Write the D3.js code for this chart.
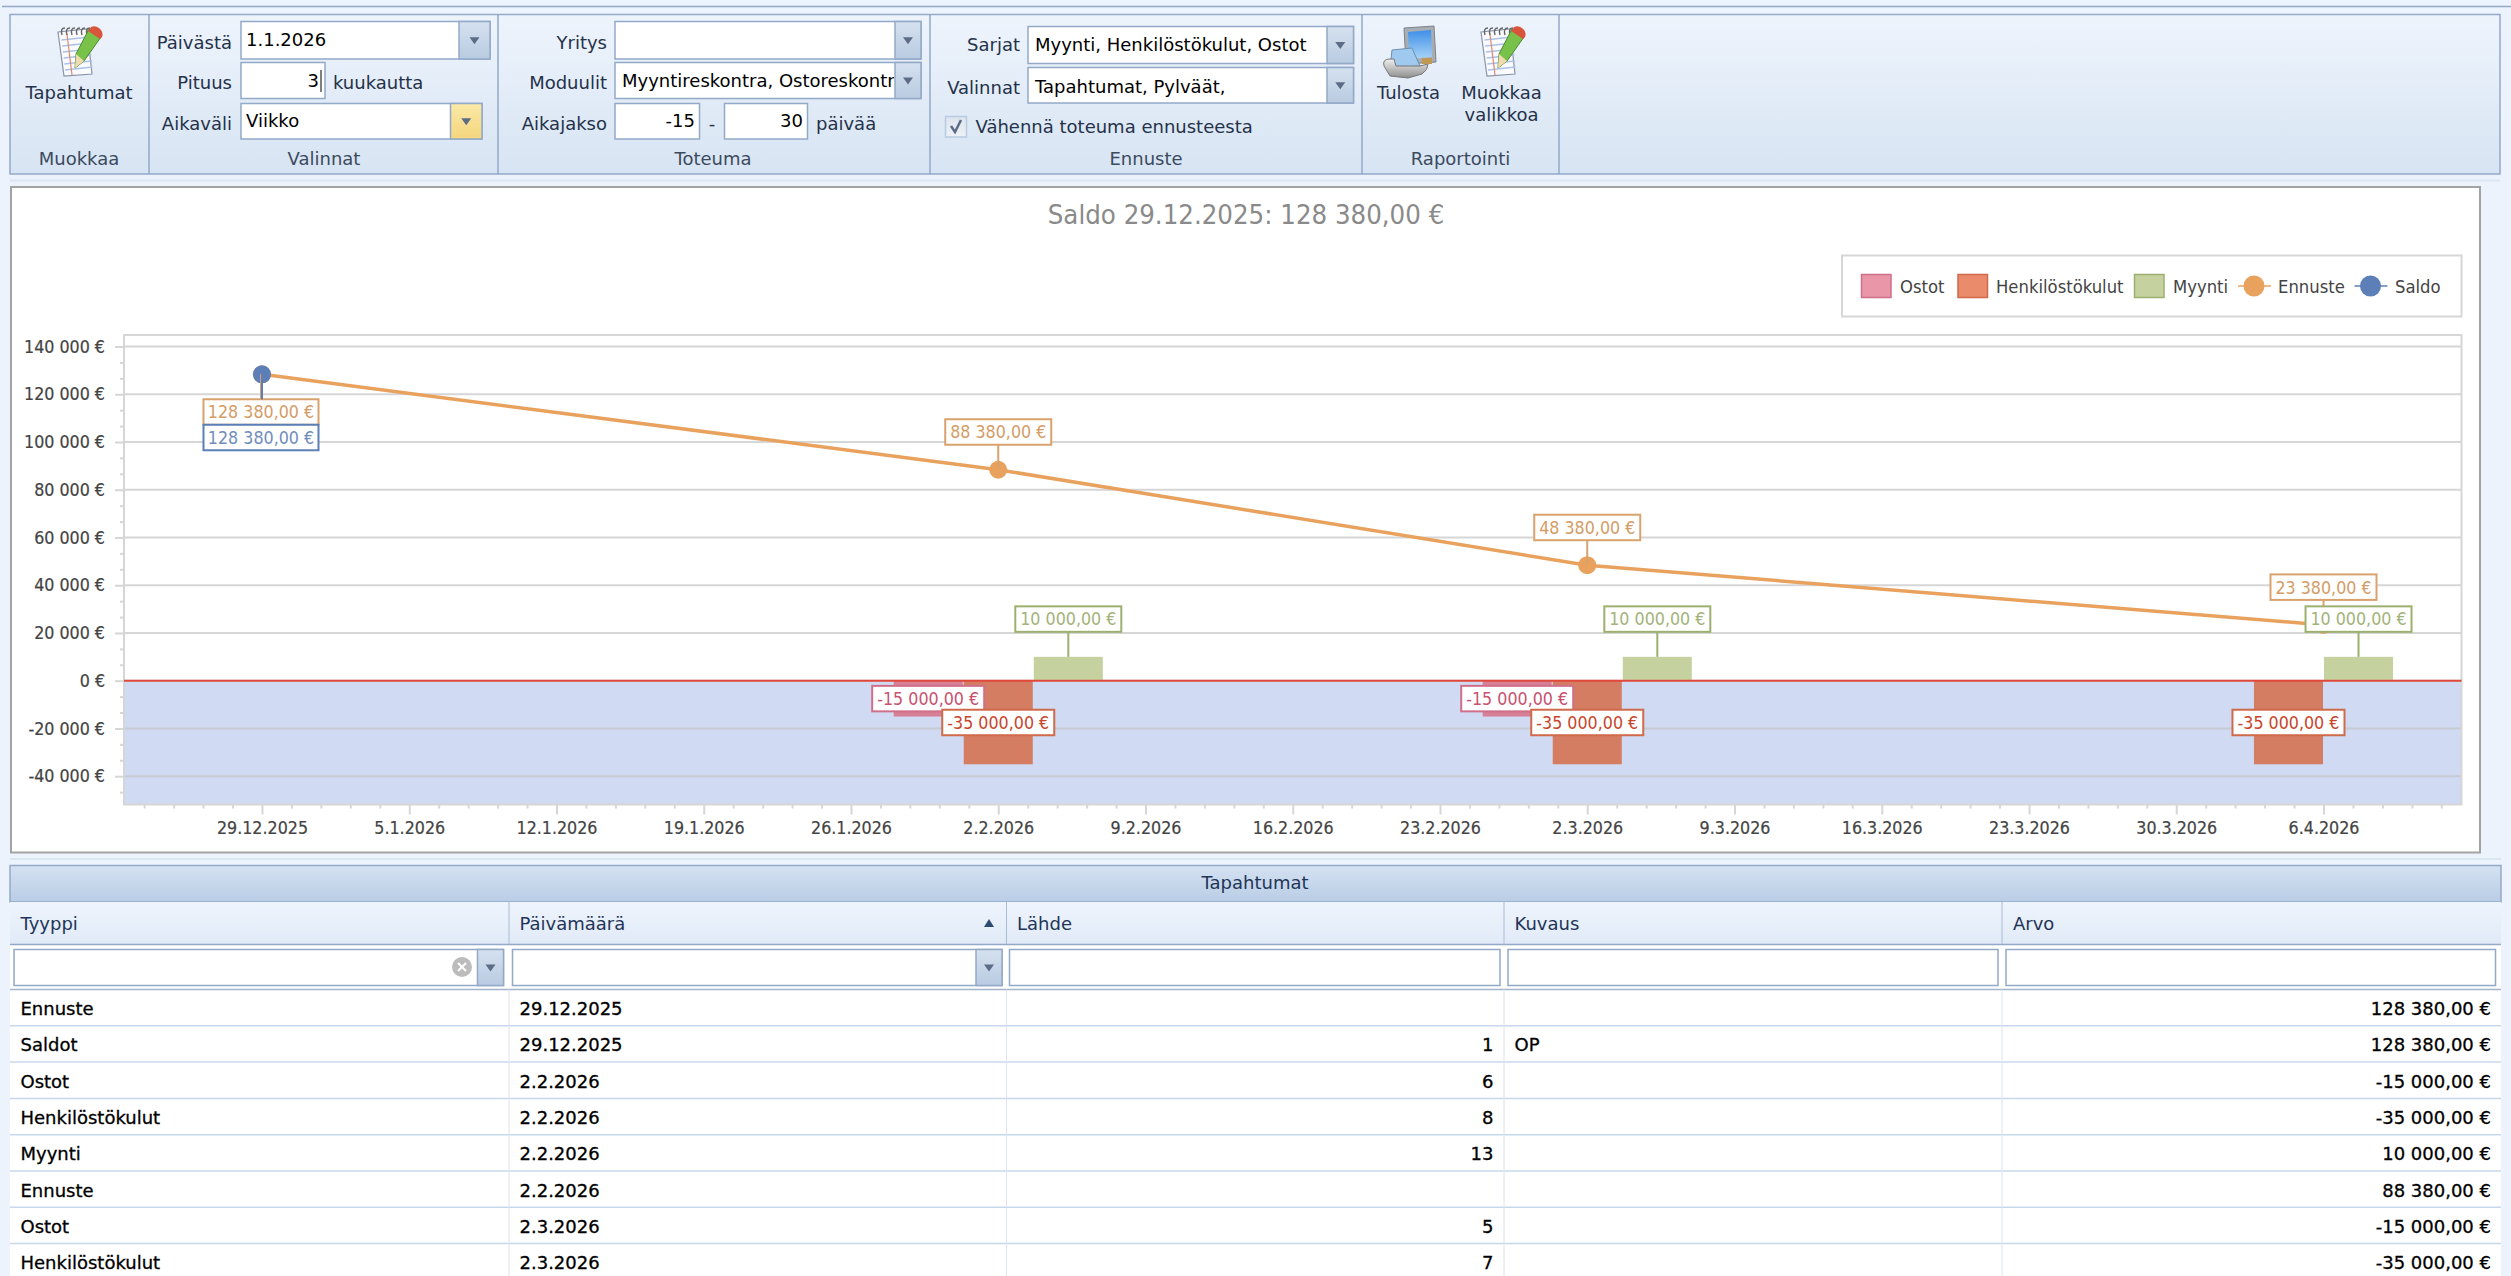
<!DOCTYPE html>
<html lang="fi">
<head>
<meta charset="utf-8">
<title>Saldo</title>
<script src="https://cdn.jsdelivr.net/npm/d3@7"></script>
<style>
html, body { margin: 0; padding: 0; background: #ecf3fc; overflow: hidden; }
svg { display: block; }
svg text { font-family: "DejaVu Sans", sans-serif; font-size: 18px; }
svg .ch text { font-family: "DejaVu Sans Condensed", "DejaVu Sans", sans-serif; font-size: 17.7px; }
svg .lg text { font-family: "DejaVu Sans Condensed", "DejaVu Sans", sans-serif; font-size: 18.3px; }
svg .cells text { stroke: #000; stroke-width: 0.3px; }
svg .tick text { stroke: #444; stroke-width: 0.2px; }
</style>
</head>
<body>
<script>
// chart values
var barDates = ["2.2.2026", "2.3.2026", "6.4.2026"];
var ostot = [-15000, -15000, null];
var henkilostokulut = [-35000, -35000, -35000];
var myynti = [10000, 10000, 10000];
var ennusteDates = ["29.12.2025", "2.2.2026", "2.3.2026", "6.4.2026"];
var ennuste = [128380, 88380, 48380, 23380];
var saldoDates = ["29.12.2025"];
var saldo = [128380];
var yTicks = [140000, 120000, 100000, 80000, 60000, 40000, 20000, 0, -20000, -40000];
var xTickLabels = ["29.12.2025", "5.1.2026", "12.1.2026", "19.1.2026", "26.1.2026", "2.2.2026", "9.2.2026",
  "16.2.2026", "23.2.2026", "2.3.2026", "9.3.2026", "16.3.2026", "23.3.2026", "30.3.2026", "6.4.2026"];

// table values
var tableColumns = ["Tyyppi", "Päivämäärä", "Lähde", "Kuvaus", "Arvo"];
var rowTyyppi = ["Ennuste", "Saldot", "Ostot", "Henkilöstökulut", "Myynti", "Ennuste", "Ostot", "Henkilöstökulut"];
var rowPaiva = ["29.12.2025", "29.12.2025", "2.2.2026", "2.2.2026", "2.2.2026", "2.2.2026", "2.3.2026", "2.3.2026"];
var rowLahde = ["", "1", "6", "8", "13", "", "5", "7"];
var rowKuvaus = ["", "OP", "", "", "", "", "", ""];
var rowArvo = [128380, 128380, -15000, -35000, 10000, 88380, -15000, -35000];

var colors = {
  Ostot: {bar: "#d87f98", swatch: "#e996a9", line: "#cf6f8a", text: "#c9506f"},
  Henkilostokulut: {bar: "#d57d63", swatch: "#ea8b6b", line: "#cf6a4a", text: "#c8452c"},
  Myynti: {bar: "#c5d29f", swatch: "#c5d29f", line: "#9db070", text: "#a3b27a"},
  Ennuste: {bar: "#e8a25e", swatch: "#e8a25e", line: "#d9a26c", text: "#d49c66"},
  Saldo: {bar: "#5c7fb8", swatch: "#5c7fb8", line: "#5c7fb8", text: "#6f8dbd"}
};

var W = 2511, H = 1276;
var parseDate = d3.utcParse("%d.%m.%Y");
var fi = d3.formatLocale({decimal: ",", thousands: " ", grouping: [3], currency: ["", " €"], minus: "-"});
var money = fi.format("$,.2f");
var moneyShort = fi.format("$,.0f");

var svg = d3.select("body").append("svg").attr("width", W).attr("height", H);
var defs = svg.append("defs");

function gradient(id, stops) {
  var g = defs.append("linearGradient").attr("id", id).attr("x1", 0).attr("y1", 0).attr("x2", 0).attr("y2", 1);
  stops.forEach(function(s, i) {
    g.append("stop").attr("offset", i / (stops.length - 1)).attr("stop-color", s);
  });
}
gradient("ribbonBg", ["#eef4fc", "#d7e4f3"]);
gradient("btnBg", ["#d5e1ef", "#b9cbe1"]);
gradient("btnHot", ["#fbe9a8", "#f4d67c"]);
gradient("titleBg", ["#d4e1f1", "#b9cde6"]);
gradient("headBg", ["#eef4fc", "#e0eaf7"]);
gradient("checkBg", ["#dce4ee", "#eef2f7"]);
gradient("screenBg", ["#3f8fe8", "#a9d4f7"]);
gradient("printerBg", ["#f0f0f0", "#8d8d8d"]);

function txt(g, x, y, s, anchor, color, size) {
  return g.append("text").attr("x", x).attr("y", y).attr("dy", ".36em")
    .attr("text-anchor", anchor || "start").attr("fill", color || "#000")
    .style("font-size", size ? size + "px" : null).text(s);
}
function rect(g, x0, y0, x1, y1, fill, stroke, sw) {
  return g.append("rect").attr("x", x0).attr("y", y0).attr("width", x1 - x0).attr("height", y1 - y0)
    .attr("fill", fill || "none").attr("stroke", stroke || "none").attr("stroke-width", sw || 1);
}
function hline(g, x0, x1, y, color, sw) {
  return g.append("line").attr("x1", x0).attr("x2", x1).attr("y1", y).attr("y2", y)
    .attr("stroke", color).attr("stroke-width", sw || 1);
}
function vline(g, x, y0, y1, color, sw) {
  return g.append("line").attr("x1", x).attr("x2", x).attr("y1", y0).attr("y2", y1)
    .attr("stroke", color).attr("stroke-width", sw || 1);
}
function arrow(g, cx, cy, color) {
  g.append("path").attr("d", "M" + (cx - 5) + "," + (cy - 3) + "h10l-5,7z").attr("fill", color || "#5c6c86");
}
// text box, with an optional drop button at the right
function field(g, x0, y0, x1, y1, text, btnX, hot) {
  rect(g, x0, y0, x1, y1, "#fff", "#93a9c8", 1.5);
  if (btnX) {
    rect(g, btnX, y0, x1, y1, hot ? "url(#btnHot)" : "url(#btnBg)", "#93a9c8", 1.5);
    arrow(g, (btnX + x1) / 2, (y0 + y1) / 2);
  }
  if (text) txt(g, x0 + 5, (y0 + y1) / 2 - 1, text);
}

// ---------- ribbon ----------
var ribbon = svg.append("g");
hline(ribbon, 2, 2511, 6.5, "#93a9c8", 1.5);
rect(ribbon, 10, 14.5, 2500, 174, "url(#ribbonBg)", "#93a9c8", 1.5);
[149, 498, 930, 1362, 1559].forEach(function(x) { vline(ribbon, x, 15, 174, "#93a9c8", 1.5); });
hline(ribbon, 10, 2500, 180.5, "#d9e5f3", 2);

function notebookIcon(g, x, y) {
  var n = g.append("g").attr("transform", "translate(" + x + "," + y + ")");
  n.append("path").attr("d", "M4,6 L33,3 L38,48 L10,50 Z").attr("fill", "#fbfbff").attr("stroke", "#8a94a8").attr("stroke-width", 1.2);
  [12, 18, 24, 30, 36, 42].forEach(function(v) {
    n.append("line").attr("x1", 6 + v * 0.12).attr("x2", 35 + v * 0.08).attr("y1", v + 2).attr("y2", v - 1)
      .attr("stroke", "#a9c2ea").attr("stroke-width", 1.3);
  });
  n.append("line").attr("x1", 13).attr("x2", 18).attr("y1", 8).attr("y2", 49).attr("stroke", "#e08a6a").attr("stroke-width", 1.2);
  [5, 10, 15, 20, 25, 30].forEach(function(v) {
    n.append("path").attr("d", "M" + (3 + v) + ",9 q-2,-7 3,-7").attr("fill", "none").attr("stroke", "#666").attr("stroke-width", 1.4);
  });
  n.append("path").attr("d", "M35,3 L47,11 L30,35 L21,42 L22,28 Z").attr("fill", "#79c24a").attr("stroke", "#4c8a2e").attr("stroke-width", 1);
  n.append("path").attr("d", "M37,1 q4,-2 8,1 q5,4 3,9 L46,13 L34,5 Z").attr("fill", "#d8553c");
  n.append("path").attr("d", "M22,28 L30,35 L21,42 Z").attr("fill", "#eedcae");
}
function printerIcon(g, x, y) {
  var n = g.append("g").attr("transform", "translate(" + x + "," + y + ")");
  n.append("path").attr("d", "M22,2 L52,0 L54,36 L24,38 Z").attr("fill", "#a8adb3").attr("stroke", "#7d838a");
  n.append("path").attr("d", "M26,6 L49,4 L50,31 L27,33 Z").attr("fill", "url(#screenBg)");
  n.append("path").attr("d", "M10,24 L30,22 L38,40 L8,42 Z").attr("fill", "#9fc9ee").attr("stroke", "#6d8fb0");
  n.append("path").attr("d", "M2,40 Q0,33 8,33 L12,33 L14,40 L38,40 L46,38 Q46,44 40,48 L26,52 L8,50 Z").attr("fill", "url(#printerBg)").attr("stroke", "#777");
  rect(n, 40, 32, 50, 38, "#c09a55");
}

notebookIcon(ribbon, 54, 26);
txt(ribbon, 79, 93, "Tapahtumat", "middle", "#25324a");
txt(ribbon, 79, 159, "Muokkaa", "middle", "#3c4a5e");

var labelColor = "#25324a";
txt(ribbon, 232, 43, "Päivästä", "end", labelColor);
field(ribbon, 241, 21.5, 490, 59, "1.1.2026", 459);
txt(ribbon, 232, 83, "Pituus", "end", labelColor);
field(ribbon, 241, 62.5, 325, 98.5);
txt(ribbon, 319, 81, "3", "end");
vline(ribbon, 321, 70, 92, "#000", 1);
txt(ribbon, 333, 83, "kuukautta", "start", labelColor);
txt(ribbon, 232, 124, "Aikaväli", "end", labelColor);
field(ribbon, 241, 103.5, 482, 139, "Viikko", 450.5, true);
txt(ribbon, 324, 159, "Valinnat", "middle", "#3c4a5e");

txt(ribbon, 607, 43, "Yritys", "end", labelColor);
field(ribbon, 615, 21.5, 921, 59, "", 895);
txt(ribbon, 607, 83, "Moduulit", "end", labelColor);
defs.append("clipPath").attr("id", "modClip").append("rect").attr("x", 616).attr("y", 62).attr("width", 278).attr("height", 37);
field(ribbon, 615, 62.5, 921, 98.5, "", 895);
txt(ribbon, 622, 81, "Myyntireskontra, Ostoreskontra").attr("clip-path", "url(#modClip)");
txt(ribbon, 607, 124, "Aikajakso", "end", labelColor);
field(ribbon, 615, 103.5, 699.5, 139);
txt(ribbon, 695, 121, "-15", "end");
txt(ribbon, 712, 124, "-", "middle", labelColor);
field(ribbon, 724.5, 103.5, 807.5, 139);
txt(ribbon, 803, 121, "30", "end");
txt(ribbon, 816, 124, "päivää", "start", labelColor);
txt(ribbon, 713, 159, "Toteuma", "middle", "#3c4a5e");

txt(ribbon, 1020, 45, "Sarjat", "end", labelColor);
field(ribbon, 1028, 26.5, 1353.5, 63.5, "", 1327);
txt(ribbon, 1035, 45, "Myynti, Henkilöstökulut, Ostot");
txt(ribbon, 1020, 88, "Valinnat", "end", labelColor);
field(ribbon, 1028, 67.5, 1353.5, 103, "", 1327);
txt(ribbon, 1035, 87, "Tapahtumat, Pylväät,");
rect(ribbon, 945.5, 116.5, 966.5, 137, "url(#checkBg)", "#b9cbe1", 1.5);
ribbon.append("path").attr("d", "M951,126 L955,132 L961,120").attr("fill", "none").attr("stroke", "#5c6c86").attr("stroke-width", 2.5);
txt(ribbon, 975.5, 127, "Vähennä toteuma ennusteesta", "start", labelColor);
txt(ribbon, 1146, 159, "Ennuste", "middle", "#3c4a5e");

printerIcon(ribbon, 1382, 26);
txt(ribbon, 1408.5, 93, "Tulosta", "middle", "#25324a");
notebookIcon(ribbon, 1477, 26);
txt(ribbon, 1501.5, 93, "Muokkaa", "middle", "#25324a");
txt(ribbon, 1501.5, 115, "valikkoa", "middle", "#25324a");
txt(ribbon, 1460.5, 159, "Raportointi", "middle", "#3c4a5e");

// ---------- chart ----------
var panel = svg.append("g").attr("class", "ch");
rect(panel, 11, 187, 2480, 852.5, "#fff", "#a3a3a3", 2);
txt(panel, 1246, 214, "Saldo " + saldoDates[0] + ": " + money(saldo[0]), "middle", "#8a8a8a", 27.3);

var plotL = 124, plotR = 2461.5, plotT = 335, plotB = 804.5;
var x = d3.scaleUtc()
  .domain([new Date("2025-12-22T10:34:00Z"), new Date("2026-04-12T13:26:00Z")])
  .range([plotL, plotR]);
var y = d3.scaleLinear().domain([-51860, 144830]).range([plotB, plotT]);
var DAY = 864e5;
var gridColor = "#d6d6d6";

var plot = svg.append("g").attr("class", "ch");
rect(plot, plotL, y(0), plotR, plotB, "#d0daf2");
plot.append("g").selectAll("line").data(yTicks).enter().append("line")
  .attr("x1", plotL).attr("x2", plotR)
  .attr("y1", function(d) { return y(d); }).attr("y2", function(d) { return y(d); })
  .attr("stroke", function(d) { return d < 0 ? "#c6cad2" : gridColor; }).attr("stroke-width", 2);
rect(plot, plotL, plotT, plotR, plotB, "none", gridColor, 2);

// axes
var yMinor = d3.range(yTicks.length - 1).reduce(function(a, i) {
  var step = (yTicks[i] - yTicks[i + 1]) / 3;
  return a.concat([yTicks[i] - step, yTicks[i] - 2 * step]);
}, [yTicks[0] + 20000 / 3, yTicks[yTicks.length - 1] - 20000 / 3].filter(function(v) { return v >= y.domain()[0] && v <= y.domain()[1]; }));

var yAxis = d3.axisLeft(y).tickValues(yTicks).tickSize(9).tickPadding(10).tickFormat(moneyShort);
var yAxisMinor = d3.axisLeft(y).tickValues(yMinor).tickSize(4).tickFormat("");
function styleAxis(g) {
  g.select(".domain").remove();
  g.selectAll("line").attr("stroke", gridColor).attr("stroke-width", 2);
  g.selectAll("text").attr("fill", "#444");
  g.attr("font-family", null).attr("font-size", null);
}
plot.append("g").attr("transform", "translate(" + plotL + ",0)").call(yAxis).call(styleAxis);
plot.append("g").attr("transform", "translate(" + plotL + ",0)").call(yAxisMinor).call(styleAxis);

var xTicks = xTickLabels.map(parseDate);
var xMinor = d3.range(-4, xTicks.length * 5 + 4).filter(function(i) { return i % 5 !== 0; })
  .map(function(i) { return new Date(+xTicks[0] + i * 1.4 * DAY); })
  .filter(function(d) { return x(d) > plotL && x(d) < plotR; });
var xAxis = d3.axisBottom(x).tickValues(xTicks).tickSize(10).tickPadding(7).tickFormat(d3.utcFormat("%-d.%-m.%Y"));
var xAxisMinor = d3.axisBottom(x).tickValues(xMinor).tickSize(4).tickFormat("");
plot.append("g").attr("transform", "translate(0," + plotB + ")").call(xAxis).call(styleAxis);
plot.append("g").attr("transform", "translate(0," + plotB + ")").call(xAxisMinor).call(styleAxis);

// side by side bars, each date is split between the series it has
var barDays = 3.33;
var barRows = [];
barDates.forEach(function(ds, i) {
  var present = [["Ostot", ostot[i]], ["Henkilostokulut", henkilostokulut[i]], ["Myynti", myynti[i]]]
    .filter(function(p) { return p[1] !== null; });
  var half = present.length * barDays / 2;
  var band = d3.scaleBand().domain(present.map(function(p) { return p[0]; })).range([-half, half]);
  present.forEach(function(p) {
    var d0 = new Date(+parseDate(ds) + band(p[0]) * DAY);
    var d1 = new Date(+d0 + band.bandwidth() * DAY);
    barRows.push({series: p[0], value: p[1], x0: x(d0) + 0.5, x1: x(d1) - 0.5});
  });
});
var bars = svg.append("g");
bars.selectAll("rect").data(barRows).enter().append("rect")
  .attr("x", function(d) { return d.x0; })
  .attr("width", function(d) { return d.x1 - d.x0; })
  .attr("y", function(d) { return d.value > 0 ? y(d.value) : y(0); })
  .attr("height", function(d) { return Math.abs(y(d.value) - y(0)); })
  .attr("fill", function(d) { return colors[d.series].bar; });

hline(svg, plotL, plotR, y(0), "#e0483c", 2);

// ennuste line and markers
var line = d3.line()
  .x(function(d) { return x(parseDate(d[0])); })
  .y(function(d) { return y(d[1]); });
var ennusteRows = d3.zip(ennusteDates, ennuste);
var saldoRows = d3.zip(saldoDates, saldo);
svg.append("path").datum(ennusteRows).attr("d", line).attr("fill", "none")
  .attr("stroke", colors.Ennuste.bar).attr("stroke-width", 3.5);
svg.append("g").selectAll("circle").data(ennusteRows).enter().append("circle")
  .attr("cx", function(d) { return x(parseDate(d[0])); }).attr("cy", function(d) { return y(d[1]); })
  .attr("r", 9).attr("fill", colors.Ennuste.bar);
svg.append("g").selectAll("circle").data(saldoRows).enter().append("circle")
  .attr("cx", function(d) { return x(parseDate(d[0])); }).attr("cy", function(d) { return y(d[1]); })
  .attr("r", 9).attr("fill", colors.Saldo.bar);

// value labels, drawn on top in the order of the series
var labelH = 25.5;
function label(g, series, cx, top, value, width, stemFrom) {
  var c = colors[series];
  if (stemFrom !== undefined) {
    vline(g, cx, stemFrom, stemFrom < top ? top : top + labelH, c.line, 2);
  }
  rect(g, cx - width / 2, top, cx + width / 2, top + labelH, "#fff", c.line, 2);
  txt(g, cx, top + labelH / 2, money(value), "middle", c.text);
}
var labels = svg.append("g").attr("class", "ch");
barRows.filter(function(d) { return d.value < 0; }).forEach(function(d) {
  label(labels, d.series, (d.x0 + d.x1) / 2, y(d.value / 2) - labelH / 2, d.value, 112);
});
ennusteRows.forEach(function(d, i) {
  var px = x(parseDate(d[0])), py = y(d[1]);
  if (i === 0) {
    label(labels, "Ennuste", px - 1, py + 25, d[1], 115, py);
  } else {
    label(labels, "Ennuste", px, py - 25 - labelH, d[1], 106, py);
  }
});
saldoRows.forEach(function(d) {
  var px = x(parseDate(d[0])), py = y(d[1]);
  label(labels, "Saldo", px - 1, py + 25 + labelH, d[1], 115);
  vline(labels, px, py, py + 25, colors.Saldo.line, 2);
});
barRows.filter(function(d) { return d.value > 0; }).forEach(function(d) {
  label(labels, d.series, (d.x0 + d.x1) / 2, y(d.value) - 25 - labelH, d.value, 106, y(d.value));
});

// legend
var legend = svg.append("g").attr("class", "lg");
rect(legend, 1842, 255.5, plotR, 316.5, "#fff", gridColor, 2);
var legendY = 286;
[["Ostot", "Ostot", 1861.5, 1900], ["Henkilöstökulut", "Henkilostokulut", 1958, 1996], ["Myynti", "Myynti", 2134.5, 2173]]
  .forEach(function(l) {
    var c = colors[l[1]];
    rect(legend, l[2], legendY - 11.5, l[2] + 29.5, legendY + 11.5, c.swatch, c.line, 1.5);
    txt(legend, l[3], legendY, l[0], "start", "#444");
  });
[["Ennuste", "Ennuste", 2254, 2278], ["Saldo", "Saldo", 2370.5, 2395]].forEach(function(l) {
  var c = colors[l[1]];
  hline(legend, l[2] - 16, l[2] + 17, legendY, c.bar, 1.5);
  legend.append("circle").attr("cx", l[2]).attr("cy", legendY).attr("r", 10.5).attr("fill", c.bar);
  txt(legend, l[3], legendY, l[0], "start", "#444");
});

// ---------- table ----------
var table = svg.append("g");
var colEdges = [10, 509, 1006.5, 1504, 2002, 2501];
var colTextX = [20.5, 519.5, 1017, 1514.5, 2013];
var rowH = 36.3, rowTop = 989.5;

hline(table, 10, 2501, 859, "#dbe6f3", 2);
rect(table, 10, 865.5, 2501, 1280, "#fff", "none");
rect(table, 10, 865.5, 2501, 902, "url(#titleBg)", "#93a9c8", 1.5);
txt(table, 1255, 883, "Tapahtumat", "middle", "#1f3558");
rect(table, 10, 902, 2501, 944.5, "url(#headBg)");
hline(table, 10, 2501, 944.5, "#93a9c8", 1.5);
hline(table, 10, 2501, 989.5, "#a5b4c9", 1.5);

tableColumns.forEach(function(c, i) {
  txt(table, colTextX[i], 924, c, "start", "#1f3558");
  if (i > 0) vline(table, colEdges[i], 902, 944, "#a9bcd6", 1);
});
table.append("path").attr("d", "M984,927h10l-5,-8z").attr("fill", "#2d4a70");

[[14, 503.5, 477.5], [512.5, 1002, 976], [1009.5, 1500], [1508, 1998], [2006, 2495.5]].forEach(function(f) {
  field(table, f[0], 949.5, f[1], 985.5, "", f[2]);
});
table.append("circle").attr("cx", 462).attr("cy", 967).attr("r", 10).attr("fill", "#bcbcbc");
table.append("path").attr("d", "M458,963 L466,971 M466,963 L458,971").attr("stroke", "#fff").attr("stroke-width", 2);

var rows = table.append("g").attr("class", "cells").selectAll("g").data(rowTyyppi).enter().append("g")
  .attr("transform", function(d, i) { return "translate(0," + (rowTop + i * rowH) + ")"; });
rows.append("line").attr("x1", 10).attr("x2", 2501).attr("y1", rowH).attr("y2", rowH)
  .attr("stroke", "#c8d8ec").attr("stroke-width", 1.5);
colEdges.slice(1, 5).forEach(function(cx) {
  rows.append("line").attr("x1", cx).attr("x2", cx).attr("y1", 0).attr("y2", rowH)
    .attr("stroke", "#dce4f0").attr("stroke-width", 1);
});
function cell(xp, anchor, value) {
  rows.append("text").attr("x", xp).attr("y", rowH / 2 + 1).attr("dy", ".36em")
    .attr("text-anchor", anchor).attr("fill", "#000").text(value);
}
cell(colTextX[0], "start", function(d) { return d; });
cell(colTextX[1], "start", function(d, i) { return rowPaiva[i]; });
cell(1493.5, "end", function(d, i) { return rowLahde[i]; });
cell(colTextX[3], "start", function(d, i) { return rowKuvaus[i]; });
cell(2491, "end", function(d, i) { return money(rowArvo[i]); });
</script>
</body>
</html>
